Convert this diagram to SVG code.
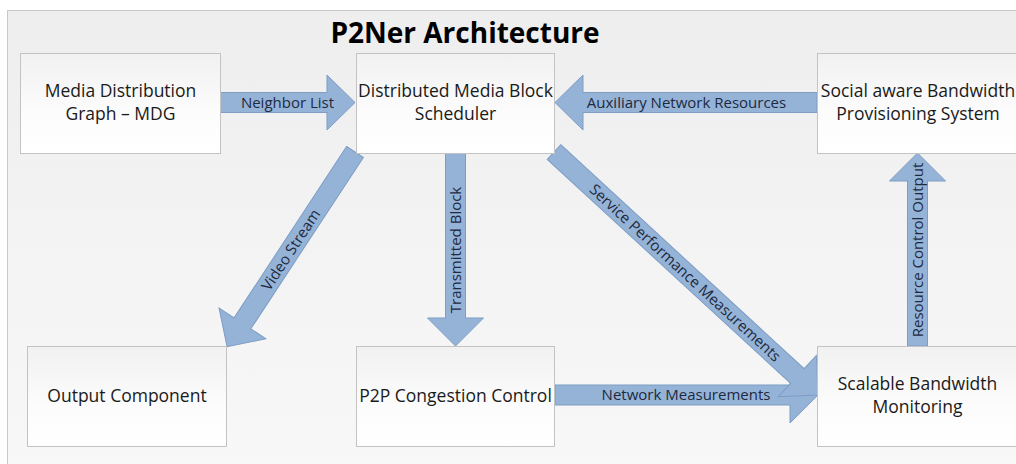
<svg xmlns="http://www.w3.org/2000/svg" width="1016" height="464" viewBox="0 0 1016 464">
  <defs>
    <linearGradient id="bg" x1="0" y1="0" x2="0" y2="1">
      <stop offset="0" stop-color="#eeeeee"/>
      <stop offset="1" stop-color="#f8f8f8"/>
    </linearGradient>
    <linearGradient id="box" x1="0" y1="0" x2="0" y2="1">
      <stop offset="0" stop-color="#f1f1f1"/>
      <stop offset="0.6" stop-color="#fcfcfc"/>
      <stop offset="1" stop-color="#ffffff"/>
    </linearGradient>
    <style>
      .box { fill: url(#box); stroke: #c3c3c3; stroke-width: 1; }
      .ntext { font-family: "Open Sans", "Liberation Sans", sans-serif; font-size: 17.5px; fill: #1a1a1a; text-anchor: middle; }
      .arrow { fill: #95b3d7; stroke: #7d9dc5; stroke-width: 1; stroke-linejoin: miter; }
      .alabel { font-family: "Open Sans", "Liberation Sans", sans-serif; font-size: 15px; fill: #1d2a3f; text-anchor: middle; }
      .title { font-family: "Open Sans", "Liberation Sans", sans-serif; font-size: 28px; font-weight: bold; fill: #000000; text-anchor: middle; }
    </style>
  </defs>

  <rect x="0" y="0" width="1016" height="464" fill="#ffffff"/>
  <rect x="7.5" y="10.5" width="1020" height="470" fill="url(#bg)" stroke="#c8c8c8" stroke-width="1"/>

  <text class="title" x="465" y="43">P2Ner Architecture</text>

  <g id="connectors">
    <g id="edge-neighbor-list">
      <path class="arrow" d="M220,92.5 L327,92.5 L327,75 L355,102.5 L327,130 L327,112.5 L220,112.5 Z"/>
      <text class="alabel" x="287.5" y="108">Neighbor List</text>
    </g>
    <g id="edge-auxiliary">
      <path class="arrow" d="M817,92.5 L583,92.5 L583,75 L555,102.5 L583,130 L583,112.5 L817,112.5 Z"/>
      <text class="alabel" x="686.5" y="108">Auxiliary Network Resources</text>
    </g>
    <g id="edge-video-stream">
      <path class="arrow" transform="translate(355,152) rotate(123.3)" d="M0,-10 L205,-10 L205,-28 L233,0 L205,28 L205,10 L0,10 Z"/>
      <text class="alabel" transform="translate(291,250) rotate(-56.7)" x="0" y="5">Video Stream</text>
    </g>
    <g id="edge-transmitted-block">
      <path class="arrow" d="M445.5,153 L445.5,318 L427.5,318 L455.5,346 L483.5,318 L465.5,318 L465.5,153 Z"/>
      <text class="alabel" transform="translate(455.5,250) rotate(-90)" x="0" y="5">Transmitted Block</text>
    </g>
    <g id="edge-network-measurements">
      <path class="arrow" d="M555,385 L790,385 L790,367 L818,395 L790,423 L790,405 L555,405 Z"/>
      <text class="alabel" x="686" y="400">Network Measurements</text>
    </g>
    <g id="edge-service-performance">
      <path class="arrow" transform="translate(554,152) rotate(42.63)" d="M0,-10 L330.8,-10 L330.8,-28 L358.8,0 L330.8,28 L330.8,10 L0,10 Z"/>
      <text class="alabel" transform="translate(685,273) rotate(42.63)" x="0" y="5">Service Performance Measurements</text>
    </g>
    <g id="edge-resource-control">
      <path class="arrow" d="M907.5,346 L907.5,181 L889.5,181 L917.5,153 L945.5,181 L927.5,181 L927.5,346 Z"/>
      <text class="alabel" transform="translate(917.5,250) rotate(-90)" x="0" y="5">Resource Control Output</text>
    </g>
  </g>

  <g id="node-mdg">
    <rect class="box" x="20.5" y="53.5" width="200" height="100"/>
    <text class="ntext" x="120.5" y="97">Media Distribution</text>
    <text class="ntext" x="120.5" y="120">Graph – MDG</text>
  </g>
  <g id="node-scheduler">
    <rect class="box" x="356.5" y="53.5" width="198" height="100"/>
    <text class="ntext" x="455.5" y="97">Distributed Media Block</text>
    <text class="ntext" x="455.5" y="120">Scheduler</text>
  </g>
  <g id="node-social">
    <rect class="box" x="817.5" y="53.5" width="200" height="100"/>
    <text class="ntext" x="918" y="97">Social aware Bandwidth</text>
    <text class="ntext" x="918" y="120">Provisioning System</text>
  </g>
  <g id="node-output">
    <rect class="box" x="27.5" y="346.5" width="199" height="100"/>
    <text class="ntext" x="127" y="402">Output Component</text>
  </g>
  <g id="node-p2p">
    <rect class="box" x="356.5" y="346.5" width="198" height="100"/>
    <text class="ntext" x="455.5" y="402">P2P Congestion Control</text>
  </g>
  <g id="node-scalable">
    <rect class="box" x="817.5" y="346.5" width="200" height="100"/>
    <text class="ntext" x="917.5" y="390">Scalable Bandwidth</text>
    <text class="ntext" x="917.5" y="413">Monitoring</text>
  </g>
</svg>
